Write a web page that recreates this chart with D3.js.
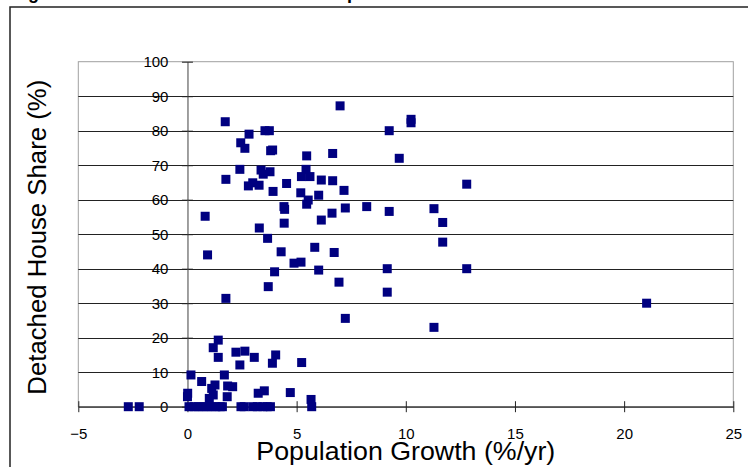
<!DOCTYPE html>
<html>
<head>
<meta charset="utf-8">
<script src="https://cdn.jsdelivr.net/npm/d3@7"></script>
<style>
  html, body { margin: 0; padding: 0; background: #fff; }
  svg { display: block; }
  text { font-family: "Liberation Sans", Arial, sans-serif; fill: #000; }
</style>
</head>
<body>
<svg id="chart" width="748" height="467"></svg>
<script>
// ---- data ----
const titleText = "Figure 4: Detached House Share vs. Population Growth";
const xTitle = "Population Growth (%/yr)";
const yTitle = "Detached House Share (%)";
const xTicks = [-5, 0, 5, 10, 15, 20, 25];
const yTicks = [0, 10, 20, 30, 40, 50, 60, 70, 80, 90, 100];

// population growth (%/yr)
const growth = [
  0.81, 1.73, 1.76, 2.40, 2.44, 2.63, 2.82, 2.79, 2.99, 3.28,
  3.37, 3.47, 3.78, 3.55, 3.75, 3.81, 3.90, 3.92, 4.54, 4.42,
  4.45, 4.43, 3.29, 5.19, 5.22, 5.61, 6.99, 9.24, 10.24, 10.24,
  9.70, 5.46, 6.65, 5.43, 6.13, 6.65, 7.17, 6.01, 5.53, 5.46,
  7.23, 8.21, 9.24, 11.29, 12.79, 6.62, 6.13, 11.69, 11.69, 4.29,
  5.83, 6.72, 4.88, 5.20, 6.01, 9.15, 12.79, 6.94, 9.15, 7.23,
  11.29, 21.03, 3.67, 3.99, 3.70, 1.76, 0.92,
  1.41, 1.18, 1.41, 2.22, 2.63, 2.40, 3.06, 4.04, 3.89, 5.23,
  0.16, 0.65, 1.69, 1.26, 1.11, 1.84, 2.07, 1.82, 0.01, 0.00,
  1.18, 1.00, 3.24, 3.52, 4.71, 5.66, 5.69, -2.71, -2.21,
  0.07, 0.30, 0.50, 0.70, 0.90, 1.10, 1.30, 1.50, 1.60,
  2.45, 2.60, 3.00, 3.20, 3.45, 3.65, 3.80
];
// detached house share (%)
const share = [
  55.2, 82.6, 65.9, 68.8, 76.5, 74.9, 79.0, 64.0, 64.9, 64.2,
  68.6, 67.4, 68.1, 80.0, 80.0, 74.2, 74.4, 62.4, 64.7, 58.0,
  57.2, 53.2, 51.8, 62.0, 66.7, 66.7, 87.2, 80.0, 83.3, 82.3,
  72.0, 72.7, 73.4, 68.8, 65.7, 65.5, 62.7, 61.3, 59.9, 58.7,
  57.6, 58.0, 56.6, 57.4, 64.5, 56.1, 54.1, 53.4, 47.7, 44.9,
  46.2, 44.7, 41.6, 41.9, 39.6, 40.0, 40.0, 36.1, 33.2, 25.6,
  23.0, 30.0, 48.8, 39.1, 34.8, 31.4, 44.0,
  19.3, 17.1, 14.3, 15.8, 16.1, 12.1, 14.3, 15.0, 12.6, 12.8,
  9.2, 7.3, 9.2, 6.3, 5.3, 6.0, 5.8, 2.9, 3.9, 2.9,
  3.4, 2.4, 3.9, 4.6, 4.1, 2.1, 0.0, 0.0, 0.0,
  0, 0, 0, 0, 0, 0, 0, 0, 0,
  0, 0, 0, 0, 0, 0, 0
];

// ---- drawing ----
const svg = d3.select("#chart");
const plot = { left: 78.3, right: 733.3, top: 61.7, bottom: 406.7 };

const x = d3.scaleLinear().domain([-5, 25]).range([plot.left, plot.right]);
const y = d3.scaleLinear().domain([0, 100]).range([plot.bottom, plot.top]);

// outer chart frame
svg.append("rect")
  .attr("x", 10).attr("y", 7)
  .attr("width", 760).attr("height", 480)
  .attr("fill", "none").attr("stroke", "#222").attr("stroke-width", 1.5);

// title (cut off by the top edge, as in the original image)
svg.append("text")
  .attr("x", 12).attr("y", -1)
  .attr("font-size", 18).attr("font-weight", "bold")
  .text(titleText);

// plot area border
svg.append("rect")
  .attr("x", plot.left).attr("y", plot.top)
  .attr("width", plot.right - plot.left).attr("height", plot.bottom - plot.top)
  .attr("fill", "none").attr("stroke", "#a0a0a0").attr("stroke-width", 1);

// horizontal gridlines
svg.append("g").selectAll("line")
  .data(yTicks.filter(d => d > 0 && d < 100))
  .join("line")
  .attr("x1", plot.left).attr("x2", plot.right)
  .attr("y1", d => Math.round(y(d)) + 0.5).attr("y2", d => Math.round(y(d)) + 0.5)
  .attr("stroke", "#222").attr("stroke-width", 1);

// y axis at x = 0
const yAxis = d3.axisLeft(y).tickValues(yTicks).tickSize(0).tickPadding(0).tickFormat(d3.format("d"));
const yG = svg.append("g").attr("transform", `translate(${x(0)},0)`).call(yAxis);
yG.select(".domain").attr("stroke", "#808080").attr("stroke-width", 1.5);
yG.selectAll(".tick line").remove();
yG.selectAll(".tick").append("line")
  .attr("x1", -5.5).attr("x2", 5.5)
  .attr("stroke", "#222").attr("stroke-width", 1);
yG.selectAll(".tick text")
  .attr("x", -19).attr("dy", "0.35em")
  .attr("font-size", 15).attr("font-family", "Liberation Sans, Arial, sans-serif")
  .attr("fill", "#000");

// x axis at y = 0
const xAxis = d3.axisBottom(x).tickValues(xTicks).tickSize(0).tickFormat(d3.format("d"));
const xG = svg.append("g").attr("transform", `translate(0,${y(0)})`).call(xAxis);
xG.select(".domain").attr("stroke", "#222").attr("stroke-width", 1.3);
xG.selectAll(".tick line").remove();
xG.selectAll(".tick").append("line")
  .attr("y1", -5.5).attr("y2", 5.5)
  .attr("stroke", "#222").attr("stroke-width", 1);
xG.selectAll(".tick text")
  .attr("y", 0).attr("dy", 0)
  .attr("transform", "translate(0,32)")
  .attr("font-size", 15).attr("font-family", "Liberation Sans, Arial, sans-serif")
  .attr("fill", "#000");

// points
const pts = growth.map((g, i) => ({ g, s: share[i] }));
const sz = 9;
svg.append("g").selectAll("rect")
  .data(pts)
  .join("rect")
  .attr("x", d => x(d.g) - sz / 2)
  .attr("y", d => y(d.s) - sz / 2)
  .attr("width", sz).attr("height", sz)
  .attr("fill", "#000080");

// axis titles
svg.append("text")
  .attr("x", (plot.left + plot.right) / 2).attr("y", 460)
  .attr("text-anchor", "middle").attr("font-size", 25)
  .attr("textLength", 299).attr("lengthAdjust", "spacingAndGlyphs")
  .text(xTitle);

svg.append("text")
  .attr("transform", `translate(46,${(plot.top + plot.bottom) / 2 + 3}) rotate(-90)`)
  .attr("text-anchor", "middle").attr("font-size", 26)
  .attr("textLength", 315).attr("lengthAdjust", "spacingAndGlyphs")
  .text(yTitle);
</script>
</body>
</html>
